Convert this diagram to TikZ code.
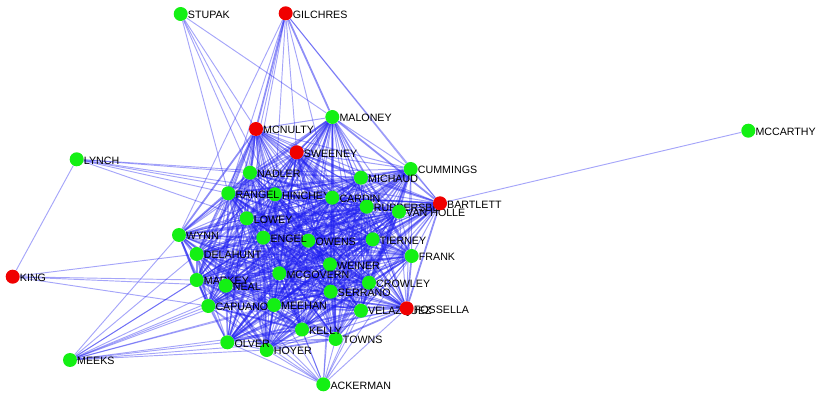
\documentclass[tikz,border=0pt]{standalone}
\usepackage{fontspec}
\setmainfont{Liberation Sans}
\pgfdeclarelayer{edges}
\pgfsetlayers{edges,main}
\definecolor{ngreen}{RGB}{20,240,20}
\definecolor{nred}{RGB}{240,0,0}
\definecolor{eblue}{RGB}{30,30,240}
\tikzset{
  dot/.style={circle,inner sep=0pt,minimum size=0.42cm,draw=none},
  lab/.style={anchor=west,inner sep=0pt,font=\fontsize{9.1}{10}\selectfont,text=black},
  edge/.style={draw=eblue,line width=0.85pt,opacity=0.42},
  thickedge/.style={draw=eblue,line width=1.5pt,opacity=0.5},
  pedge/.style={draw=eblue,line width=0.8pt,opacity=0.4},
}
\newcommand\pnode[5]{%
  \node[dot,fill=#4] (#1) at (#2,#3) {};
  \node[lab] (#1-l) at (#2+7,#3+1.3) {#5};}
\begin{document}
\begin{tikzpicture}[x=0.03cm,y=-0.03cm]
\useasboundingbox (0,0) rectangle (830,399);
\pnode{STUPAK}{180.7}{14}{ngreen}{STUPAK}
\pnode{GILCHRES}{285.7}{13.3}{nred}{GILCHRES}
\pnode{MALONEY}{332.3}{117}{ngreen}{MALONEY}
\pnode{MCNULTY}{256}{129}{nred}{MCNULTY}
\pnode{SWEENEY}{296.7}{152.3}{nred}{SWEENEY}
\pnode{MCCARTHY}{748.3}{130.7}{ngreen}{MCCARTHY}
\pnode{LYNCH}{76.7}{159.3}{ngreen}{LYNCH}
\pnode{CUMMINGS}{410.7}{169}{ngreen}{CUMMINGS}
\pnode{MICHAUD}{361}{177.7}{ngreen}{MICHAUD}
\pnode{NADLER}{250}{172.7}{ngreen}{NADLER}
\pnode{HINCHEY}{275}{194.3}{ngreen}{HINCHEY}
\pnode{RANGEL}{228.3}{193.3}{ngreen}{RANGEL}
\pnode{CARDIN}{332.3}{197.7}{ngreen}{CARDIN}
\pnode{RUPP}{366.7}{206.7}{ngreen}{RUPPERSBE}
\pnode{VANHOLLEN}{399}{211.7}{ngreen}{VAN HOLLE}
\pnode{BARTLETT}{440}{203.3}{nred}{BARTLETT}
\pnode{LOWEY}{246.7}{218.3}{ngreen}{LOWEY}
\pnode{WYNN}{179}{235}{ngreen}{WYNN}
\pnode{OWENS}{308.3}{240.7}{ngreen}{OWENS}
\pnode{ENGEL}{263.3}{237.7}{ngreen}{ENGEL}
\pnode{TIERNEY}{372.7}{239.3}{ngreen}{TIERNEY}
\pnode{DELAHUNT}{196.7}{254}{ngreen}{DELAHUNT}
\pnode{FRANK}{411.7}{256}{ngreen}{FRANK}
\pnode{KING}{12.7}{276.7}{nred}{KING}
\pnode{WEINER}{330}{264.3}{ngreen}{WEINER}
\pnode{MCGOVERN}{279.3}{273.3}{ngreen}{MCGOVERN}
\pnode{MARKEY}{196.7}{280}{ngreen}{MARKEY}
\pnode{CROWLEY}{369}{282.7}{ngreen}{CROWLEY}
\pnode{NEAL}{225.7}{285.7}{ngreen}{NEAL}
\pnode{SERRANO}{330.7}{291.7}{ngreen}{SERRANO}
\pnode{MEEHAN}{274}{305}{ngreen}{MEEHAN}
\pnode{CAPUANO}{208.3}{306}{ngreen}{CAPUANO}
\pnode{VELAZQUEZ}{361}{310.7}{ngreen}{VELAZQUEZ}
\pnode{FOSSELLA}{406.7}{308.3}{nred}{FOSSELLA}
\pnode{TOWNS}{335.7}{339}{ngreen}{TOWNS}
\pnode{KELLY}{302}{329.5}{ngreen}{KELLY}
\pnode{HOYER}{266.7}{350}{ngreen}{HOYER}
\pnode{OLVER}{227.3}{342.3}{ngreen}{OLVER}
\pnode{MEEKS}{70}{360}{ngreen}{MEEKS}
\pnode{ACKERMAN}{323.3}{384.3}{ngreen}{ACKERMAN}
\begin{pgfonlayer}{edges}
\foreach \a [count=\i] in {MALONEY,MCNULTY,SWEENEY,CUMMINGS,MICHAUD,NADLER,RANGEL,HINCHEY,CARDIN,RUPP,BARTLETT,VANHOLLEN,LOWEY,WYNN,ENGEL,OWENS,TIERNEY,DELAHUNT,FRANK,MCGOVERN,WEINER,MARKEY,NEAL,CROWLEY,SERRANO,CAPUANO,MEEHAN,VELAZQUEZ,FOSSELLA,KELLY,TOWNS,OLVER,HOYER}{
  \foreach \b [count=\j] in {MALONEY,MCNULTY,SWEENEY,CUMMINGS,MICHAUD,NADLER,RANGEL,HINCHEY,CARDIN,RUPP,BARTLETT,VANHOLLEN,LOWEY,WYNN,ENGEL,OWENS,TIERNEY,DELAHUNT,FRANK,MCGOVERN,WEINER,MARKEY,NEAL,CROWLEY,SERRANO,CAPUANO,MEEHAN,VELAZQUEZ,FOSSELLA,KELLY,TOWNS,OLVER,HOYER}{
    \ifnum\j>\i
      \pgfmathtruncatemacro\r{mod(\i*7+\j*3,4)}
      \ifnum\r=0 \draw[thickedge] (\a) -- (\b); \else \draw[edge] (\a) -- (\b); \fi
    \fi
  }
}
\foreach \b in {MALONEY,MCNULTY,NADLER,RANGEL,HINCHEY}{\draw[pedge] (STUPAK) -- (\b);}
\foreach \b in {NADLER,RANGEL,HINCHEY,SWEENEY,CARDIN,CUMMINGS,BARTLETT,WYNN,LOWEY}{\draw[pedge] (GILCHRES) -- (\b);}
\draw[thickedge] (GILCHRES) -- (MALONEY);
\draw[thickedge] (GILCHRES) -- (MCNULTY);
\foreach \b in {KING,NADLER,RANGEL,HINCHEY,CARDIN,MICHAUD,LOWEY}{\draw[pedge] (LYNCH) -- (\b);}
\foreach \b in {DELAHUNT,MARKEY,NEAL,CAPUANO}{\draw[pedge] (KING) -- (\b);}
\foreach \b in {WYNN,DELAHUNT,MARKEY,NEAL,CAPUANO,MEEHAN,MCGOVERN,OLVER,HOYER,KELLY,TOWNS,SERRANO,ENGEL,WEINER}{\draw[pedge] (MEEKS) -- (\b);}
\foreach \b in {OLVER,HOYER,KELLY,TOWNS,MEEHAN,CAPUANO,NEAL,SERRANO,VELAZQUEZ,CROWLEY,FOSSELLA,FRANK,MCGOVERN,WEINER,MARKEY}{\draw[pedge] (ACKERMAN) -- (\b);}
\draw[pedge] (MCCARTHY) -- (BARTLETT);
\end{pgfonlayer}
\end{tikzpicture}
\end{document}
